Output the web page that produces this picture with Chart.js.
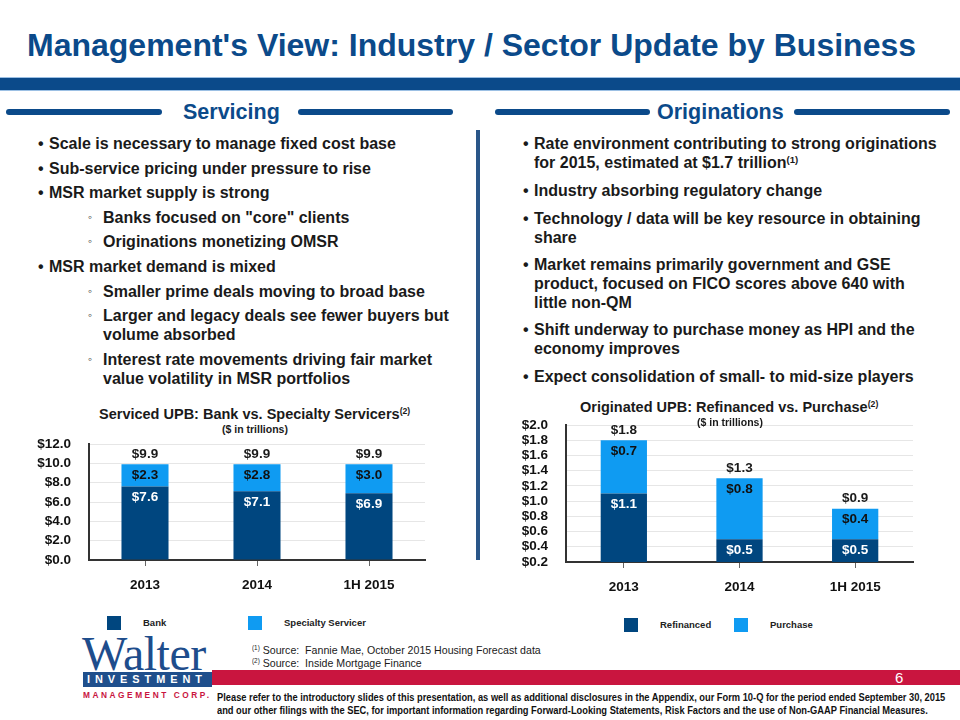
<!DOCTYPE html>
<html>
<head>
<meta charset="utf-8">
<title>Management's View: Industry / Sector Update by Business</title>
<script src="https://cdn.jsdelivr.net/npm/chart.js@4"></script>
<style>
  html, body { margin: 0; padding: 0; background: #fff; }
  body { width: 960px; height: 720px; position: relative; overflow: hidden;
         font-family: "Liberation Sans", Arial, sans-serif; color: #1a1a1a; }
  .abs { position: absolute; white-space: nowrap; }
  sup { font-size: 60%; vertical-align: 0.55em; line-height: 0; }
  .navy { color: #0b4a8a; }
  .rule { position: absolute; height: 6px; border-radius: 3px; background: #0b4a8a; }
  .bul { position: absolute; font-weight: bold; font-size: 16px; line-height: 19px; color: #1a1a1a; white-space: nowrap; }
  .bul .dot { position: absolute; }
  .sw { position: absolute; width: 14px; height: 14px; }
  .lg { position: absolute; font-weight: bold; font-size: 9.5px; line-height: 14px; white-space: nowrap; color: #222; }
  .chartbox { position: absolute; }
  .fit { transform-origin: 0 0; }
</style>
</head>
<body>

<!-- en-tête -->
<div class="abs navy" style="left:27px; top:29px; font-size:32px; line-height:32px; font-weight:bold;">Management's View: Industry / Sector Update by Business</div>
<div class="abs" style="left:0; top:77px; width:960px; height:1px; background:#9cc0e4;"></div>
<div class="abs" style="left:0; top:78px; width:960px; height:12px; background:#0b4a8a;"></div>
<div class="abs" style="left:0; top:90px; width:960px; height:1px; background:#9cc0e4;"></div>

<div class="rule" style="left:6px; top:109px; width:156px;"></div>
<div class="abs navy" style="left:183px; top:101px; font-size:21.5px; line-height:22px; font-weight:bold;">Servicing</div>
<div class="rule" style="left:298px; top:109px; width:155px;"></div>
<div class="rule" style="left:495px; top:109px; width:155px;"></div>
<div class="abs navy" style="left:657px; top:101px; font-size:21.5px; line-height:22px; font-weight:bold;">Originations</div>
<div class="rule" style="left:794px; top:109px; width:156px;"></div>

<div class="abs" style="left:476px; top:130px; width:4px; height:430px; background:#2a5689;"></div>

<!-- Servicing -->
<div class="bul" style="left:49px; top:134px;"><span class="dot" style="left:-11px;">•</span>Scale is necessary to manage fixed cost base</div>
<div class="bul" style="left:49px; top:159px;"><span class="dot" style="left:-11px;">•</span>Sub-service pricing under pressure to rise</div>
<div class="bul" style="left:49px; top:183px;"><span class="dot" style="left:-11px;">•</span>MSR market supply is strong</div>
<div class="bul" style="left:103px; top:208px;"><span class="dot" style="left:-15px; font-size:12px;">◦</span>Banks focused on "core" clients</div>
<div class="bul" style="left:103px; top:232px;"><span class="dot" style="left:-15px; font-size:12px;">◦</span>Originations monetizing OMSR</div>
<div class="bul" style="left:49px; top:257px;"><span class="dot" style="left:-11px;">•</span>MSR market demand is mixed</div>
<div class="bul" style="left:103px; top:282px;"><span class="dot" style="left:-15px; font-size:12px;">◦</span>Smaller prime deals moving to broad base</div>
<div class="bul" style="left:103px; top:306px;"><span class="dot" style="left:-15px; font-size:12px;">◦</span>Larger and legacy deals see fewer buyers but<br>volume absorbed</div>
<div class="bul" style="left:103px; top:350px;"><span class="dot" style="left:-15px; font-size:12px;">◦</span>Interest rate movements driving fair market<br>value volatility in MSR portfolios</div>

<!-- Originations -->
<div class="bul" style="left:534px; top:134px;"><span class="dot" style="left:-11px;">•</span>Rate environment contributing to strong originations<br>for 2015, estimated at $1.7 trillion<sup>(1)</sup></div>
<div class="bul" style="left:534px; top:181px;"><span class="dot" style="left:-11px;">•</span>Industry absorbing regulatory change</div>
<div class="bul" style="left:534px; top:209px;"><span class="dot" style="left:-11px;">•</span>Technology / data will be key resource in obtaining<br>share</div>
<div class="bul" style="left:534px; top:255px;"><span class="dot" style="left:-11px;">•</span>Market remains primarily government and GSE<br>product, focused on FICO scores above 640 with<br>little non-QM</div>
<div class="bul" style="left:534px; top:320px;"><span class="dot" style="left:-11px;">•</span>Shift underway to purchase money as HPI and the<br>economy improves</div>
<div class="bul" style="left:534px; top:367px;"><span class="dot" style="left:-11px;">•</span>Expect consolidation of small- to mid-size players</div>

<div class="chartbox" style="left:10px; top:436px; width:430px; height:160px;"><canvas id="chartServiced"></canvas></div>
<div class="chartbox" style="left:486px; top:417px; width:440px; height:180px;"><canvas id="chartOriginated"></canvas></div>

<!-- titres des graphiques -->
<div class="abs" style="left:99px; top:406px; font-size:14.5px; line-height:16px; font-weight:bold;">Serviced UPB: Bank vs. Specialty Servicers<sup>(2)</sup></div>
<div class="abs" style="left:222px; top:423px; font-size:10.5px; line-height:12px; font-weight:bold;">($ in trillions)</div>
<div class="abs" style="left:580px; top:399px; font-size:14.5px; line-height:16px; font-weight:bold;">Originated UPB: Refinanced vs. Purchase<sup>(2)</sup></div>
<div class="abs" style="left:697px; top:416px; font-size:10.5px; line-height:12px; font-weight:bold;">($ in trillions)</div>

<!-- légendes -->
<div class="sw" style="left:107px; top:616px; background:#00467f;"></div>
<div class="lg" id="lgBank" style="left:143px; top:616px;"></div>
<div class="sw" style="left:248px; top:616px; background:#0f9bf2;"></div>
<div class="lg" id="lgSpec" style="left:284px; top:616px;"></div>
<div class="sw" style="left:624px; top:618px; background:#00467f;"></div>
<div class="lg" id="lgRefi" style="left:660px; top:618px;"></div>
<div class="sw" style="left:734px; top:618px; background:#0f9bf2;"></div>
<div class="lg" id="lgPurch" style="left:770px; top:618px;"></div>

<!-- pied de page -->
<div class="abs fit" data-w="289" style="left:252px; top:644px; font-size:11px; line-height:13px;"><sup>(1)</sup> Source:&nbsp; Fannie Mae, October 2015 Housing Forecast data<br><sup>(2)</sup> Source:&nbsp; Inside Mortgage Finance</div>

<div class="abs" style="left:212px; top:670px; width:748px; height:15px; background:#c9153f;"></div>
<div class="abs" style="left:895px; top:670px; font-size:15px; line-height:16px; color:#fff;">6</div>

<div class="abs" style="left:82px; top:630px; font-family:'Liberation Serif','Times New Roman',serif; font-size:48px; line-height:48px; color:#1e4d8c; letter-spacing:-0.5px;">Walter</div>
<div class="abs" style="left:83px; top:672px; width:129px; height:15px; background:#1f4f8c;"></div>
<div class="abs fit" data-w="120" style="left:87px; top:673px; font-size:11px; line-height:13px; font-weight:bold; color:#fff; letter-spacing:5px;">INVESTMENT</div>
<div class="abs fit" data-w="129" style="left:83px; top:690px; font-size:8.5px; line-height:10px; font-weight:bold; color:#c9153f; letter-spacing:2.6px;">MANAGEMENT CORP.</div>

<div class="abs fit" data-w="728" style="left:217px; top:691px; font-size:10.5px; line-height:12.5px; font-weight:bold; color:#111;">Please refer to the introductory slides of this presentation, as well as additional disclosures in the Appendix, our Form 10-Q for the period ended September 30, 2015<br>and our other filings with the SEC, for important information regarding Forward-Looking Statements, Risk Factors and the use of Non-GAAP Financial Measures.</div>

<script>
// ─── DONNÉES ───
var categories = ['2013', '2014', '1H 2015'];

// Serviced UPB ($ trillions)
var servicedSeries = ['Bank', 'Specialty Servicer'];
var bankUpb = [7.6, 7.1, 6.9];
var specialtyUpb = [2.3, 2.8, 3.0];
var servicedTotals = [9.9, 9.9, 9.9];

// Originated UPB ($ trillions)
var originatedSeries = ['Refinanced', 'Purchase'];
var refinancedUpb = [1.1, 0.5, 0.5];
var purchaseUpb = [0.7, 0.8, 0.4];
var originatedTotals = [1.8, 1.3, 0.9];

var NAVY = '#00467f';
var SKY = '#0f9bf2';
var FONT = '"Liberation Sans", Arial, sans-serif';

document.getElementById('lgBank').textContent = servicedSeries[0];
document.getElementById('lgSpec').textContent = servicedSeries[1];
document.getElementById('lgRefi').textContent = originatedSeries[0];
document.getElementById('lgPurch').textContent = originatedSeries[1];

// texte condensé : on resserre à la largeur voulue (pas de police "narrow" ici)
document.querySelectorAll('.fit').forEach(function(el) {
  var w = parseFloat(el.getAttribute('data-w'));
  var nat = el.scrollWidth;
  if (nat > 0) el.style.transform = 'scaleX(' + (w / nat) + ')';
});

function money(v) { return '$' + Number(v).toFixed(1); }

// étiquettes de valeur dans les barres + total au-dessus
var barLabels = {
  id: 'barLabels',
  afterDatasetsDraw: function(chart, args, opts) {
    var ctx = chart.ctx;
    ctx.save();
    ctx.font = 'bold 13.5px ' + FONT;
    ctx.textAlign = 'center';
    ctx.textBaseline = 'middle';
    chart.data.datasets.forEach(function(ds, i) {
      chart.getDatasetMeta(i).data.forEach(function(bar, j) {
        ctx.fillStyle = ds.labelColor;
        ctx.fillText(money(ds.data[j]), bar.x, bar.y + 11);
      });
    });
    var top = chart.getDatasetMeta(chart.data.datasets.length - 1).data;
    ctx.fillStyle = '#1a1a1a';
    (opts.totals || []).forEach(function(t, j) {
      ctx.fillText(money(t), top[j].x, top[j].y - 10);
    });
    ctx.restore();
  }
};

function stackedChart(id, names, lower, upper, totals, yMin, yMax, yStep, axisW, axisH, pad, barPct) {
  return new Chart(document.getElementById(id), {
    type: 'bar',
    data: {
      labels: categories,
      datasets: [
        { label: names[0], data: lower, backgroundColor: NAVY, labelColor: '#ffffff',
          barPercentage: barPct, categoryPercentage: 1 },
        { label: names[1], data: upper, backgroundColor: SKY, labelColor: '#111111',
          barPercentage: barPct, categoryPercentage: 1 }
      ]
    },
    options: {
      responsive: true,
      maintainAspectRatio: false,
      animation: false,
      layout: { padding: pad },
      plugins: {
        legend: { display: false },
        tooltip: { enabled: false },
        barLabels: { totals: totals }
      },
      scales: {
        x: {
          stacked: true,
          grid: { offset: false, drawOnChartArea: false, tickLength: 6, color: '#666' },
          border: { color: '#333', width: 2 },
          ticks: { color: '#111', padding: 11, font: { family: FONT, weight: 'bold', size: 13.5 } },
          afterFit: function(s) { s.height = axisH; }
        },
        y: {
          stacked: true,
          min: yMin,
          max: yMax,
          grid: { color: '#e6e6e6', drawTicks: false },
          border: { color: '#333', width: 2 },
          ticks: { stepSize: yStep, autoSkip: false, color: '#111', padding: 18,
                   font: { family: FONT, weight: 'bold', size: 13.5 },
                   callback: function(v) { return money(v); } },
          // le padding des ticks gonfle le haut/bas de l'axe : on le remet à la main
          afterFit: function(s) { s.width = axisW; s.paddingTop = 8; s.paddingBottom = 8; }
        }
      }
    },
    plugins: [barLabels]
  });
}

stackedChart('chartServiced', servicedSeries, bankUpb, specialtyUpb, servicedTotals,
  0, 12, 2, 79, 36, { top: 8, right: 15, left: 0, bottom: 0 }, 0.42);
stackedChart('chartOriginated', originatedSeries, refinancedUpb, purchaseUpb, originatedTotals,
  0.2, 2.0, 0.2, 80, 35, { top: 8, right: 13, left: 0, bottom: 0 }, 0.40);
</script>
</body>
</html>
